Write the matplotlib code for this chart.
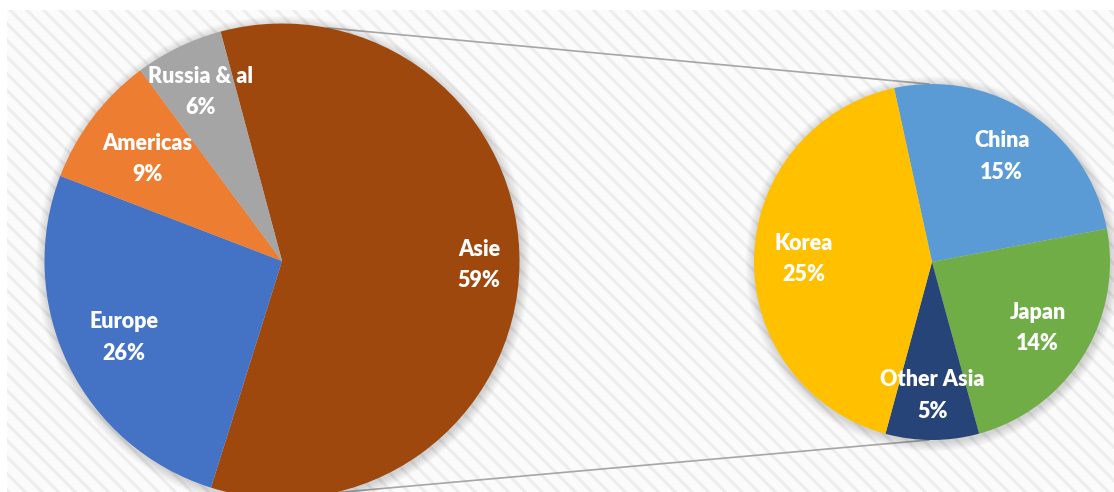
import matplotlib.pyplot as plt
from matplotlib.patches import Rectangle, Circle
import numpy as np

# World share: main pie and the Asia breakdown
main_labels = ['Asie', 'Europe', 'Americas', 'Russia & al']
main_values = [59, 26, 9, 6]
main_colors = ['#9E480E', '#4472C4', '#ED7D31', '#A5A5A5']

asia_labels = ['China', 'Japan', 'Other Asia', 'Korea']
asia_values = [15, 14, 5, 25]
asia_colors = ['#5B9BD5', '#70AD47', '#264478', '#FFC000']

W, H = 1114, 492
plt.rcParams['hatch.linewidth'] = 2.2

fig = plt.figure(figsize=(W / 100, H / 100), dpi=100)
ax = fig.add_axes([0, 0, 1, 1])

# striped background
ax.add_patch(Rectangle((7, 0), W - 7, H - 10, facecolor='#fbfbfb',
                       edgecolor='#ededed', hatch='\\\\', linewidth=0, zorder=0))

c1, r1 = (282, H - 261), 237.5
c2, r2 = (932, H - 262), 178

def on_circle(c, r, deg):
    a = np.radians(deg)
    return c[0] + r * np.cos(a), c[1] + r * np.sin(a)

# connector lines
for a1, a2 in [(79, 91), (-77.5, -91)]:
    p1 = on_circle(c1, r1, a1)
    p2 = on_circle(c2, r2, a2)
    ax.plot([p1[0], p2[0]], [p1[1], p2[1]], color='#a6a6a6', lw=1.2, zorder=1)

# soft shadow
for c, r in [(c1, r1), (c2, r2)]:
    for i in range(8):
        ax.add_patch(Circle((c[0] + 1, c[1] - 2), r + 1 + i * 1.2, color='k',
                            alpha=0.018, lw=0, zorder=1))

w1, _ = ax.pie(main_values, colors=main_colors, startangle=105, counterclock=False,
               center=c1, radius=r1, frame=True, wedgeprops=dict(linewidth=0, zorder=2))
w2, _ = ax.pie(asia_values, colors=asia_colors, startangle=102.3, counterclock=False,
               center=c2, radius=r2, frame=True, wedgeprops=dict(linewidth=0, zorder=2))

ax.set_xlim(0, W)
ax.set_ylim(0, H)
ax.set_aspect('equal')
ax.axis('off')

font = dict(color='white', fontsize=15.5, fontweight='heavy', family=['Lato', 'DejaVu Sans'],
            ha='center', va='center', linespacing=1.6, zorder=5)

main_dist = [0.83, 0.74, 0.71, 0.79]
for w, lab, v, d in zip(w1, main_labels, main_values, main_dist):
    mid = (w.theta1 + w.theta2) / 2
    x, y = on_circle(c1, r1 * d, mid)
    ax.text(x, y, f'{lab}\n{v}%', **font)

asia_dist = [0.71, 0.70, 0.75, 0.72]
for w, lab, v, d in zip(w2, asia_labels, asia_values, asia_dist):
    mid = (w.theta1 + w.theta2) / 2
    x, y = on_circle(c2, r2 * d, mid)
    ax.text(x, y, f'{lab}\n{v}%', **font)

fig.savefig('out.png', dpi=100, facecolor='white')
